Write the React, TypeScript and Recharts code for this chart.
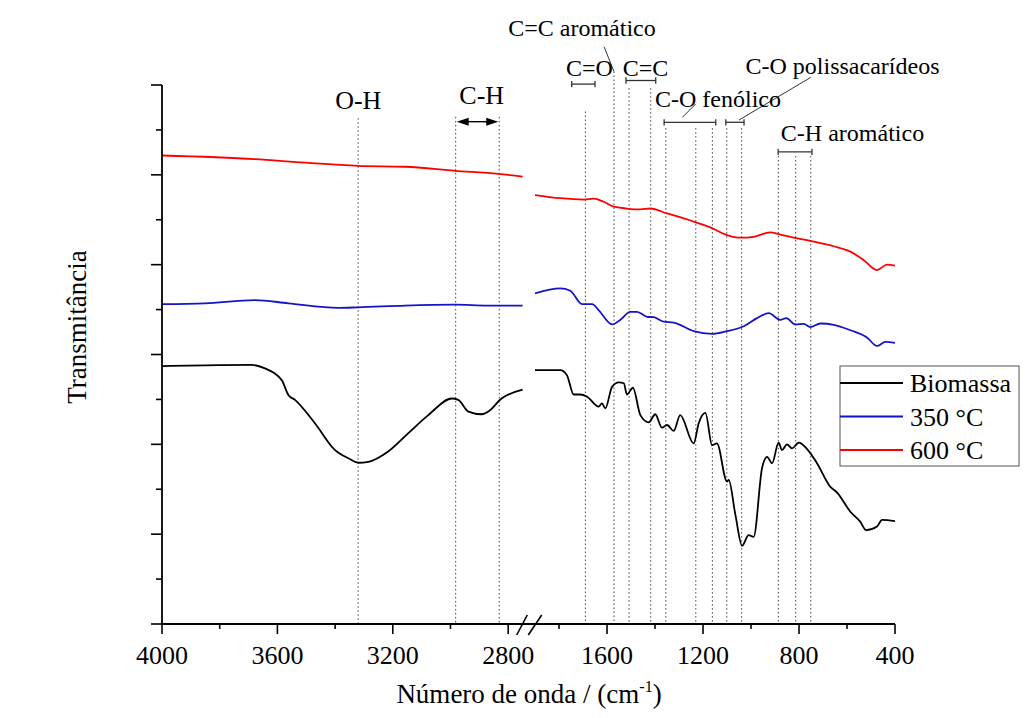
import React from "react";
import { LineChart, Line, XAxis, YAxis, ReferenceLine } from "recharts";

const FONT = '"Liberation Serif", "Times New Roman", Times, serif';

// [wavenumber (cm-1), transmittance (a.u.)]
const biomassaHigh = [
  [4000, 57.4], [3851, 57.6], [3689, 57.7], [3643, 56.9], [3585, 54.3], [3562, 51.0],
  [3539, 49.9], [3470, 44.7], [3400, 38.7], [3354, 36.9], [3320, 35.9], [3285, 36.1],
  [3216, 38.4], [3146, 42.5], [3077, 46.5], [2996, 50.2], [2973, 49.9], [2938, 47.3],
  [2892, 46.7], [2869, 47.3], [2823, 50.2], [2750, 52.2],
];
const biomassaLow = [
  [1900, 56.5], [1795, 56.5], [1767, 55.4], [1739, 51.1], [1711, 51.1], [1683, 50.6],
  [1635, 48.4], [1621, 49.1], [1607, 48.0], [1579, 52.8], [1551, 53.8], [1530, 53.6],
  [1517, 51.1], [1492, 52.6], [1461, 46.5], [1426, 44.9], [1399, 46.7], [1371, 43.7],
  [1350, 44.3], [1322, 43.0], [1295, 46.5], [1239, 40.2], [1218, 44.7], [1190, 47.0],
  [1162, 39.8], [1142, 40.2], [1100, 31.7], [1093, 32.1], [1065, 24.3], [1037, 17.4],
  [1010, 19.8], [989, 19.4], [954, 34.7], [933, 37.2], [912, 35.8], [885, 40.4],
  [871, 38.7], [850, 40.0], [829, 39.1], [801, 40.4], [767, 39.0], [725, 35.8],
  [670, 30.6], [642, 29.3], [586, 25.0], [545, 22.8], [520, 20.9], [475, 21.7],
  [454, 23.2], [400, 22.9],
];
const c350High = [
  [4000, 71.2], [3851, 71.4], [3678, 72.1], [3562, 71.4], [3389, 70.4], [3320, 70.5],
  [3158, 70.9], [2984, 71.1], [2870, 70.9], [2750, 70.9],
];
const c350Low = [
  [1900, 73.6], [1795, 74.7], [1753, 74.2], [1704, 71.2], [1662, 71.2], [1635, 69.9],
  [1579, 66.7], [1545, 67.7], [1503, 69.5], [1475, 69.5], [1433, 68.4], [1405, 68.3],
  [1364, 67.3], [1322, 67.1], [1239, 65.2], [1162, 64.6], [1100, 65.2], [1030, 66.3],
  [975, 68.1], [926, 69.2], [878, 67.7], [853, 68.1], [815, 66.7], [780, 66.8],
  [753, 66.1], [711, 66.9], [655, 66.6], [586, 65.4], [517, 63.8], [475, 61.9],
  [440, 62.8], [400, 62.6],
];
const c600High = [
  [4000, 104.3], [3678, 103.5], [3504, 102.7], [3320, 102.0], [3158, 101.8],
  [2984, 100.9], [2834, 100.2], [2750, 99.6],
];
const c600Low = [
  [1900, 95.5], [1795, 94.8], [1697, 94.5], [1655, 94.7], [1614, 94.0], [1572, 92.9],
  [1517, 92.5], [1461, 92.3], [1420, 92.5], [1350, 91.4], [1239, 89.6], [1170, 88.3],
  [1100, 86.6], [1045, 86.0], [989, 86.2], [920, 87.2], [878, 86.7], [822, 86.0],
  [753, 85.3], [655, 84.1], [586, 82.9], [530, 81.0], [475, 78.8], [433, 80.0],
  [400, 79.8],
];

const seriesNames = ["Biomassa", "350 °C", "600 °C"];
const seriesColors = ["#000000", "#1414c8", "#ff0000"];

const xMajor = [4000, 3600, 3200, 2800, 1600, 1200, 800, 400];
const xMinor = [3800, 3400, 3000, 1800, 1400, 1000, 600];
const yTicks = [0, 10, 20, 30, 40, 50, 60, 70, 80, 90, 100, 110, 120];

// band markers: [wavenumber, top of the dotted line]
const bandLines = [
  [3320, 112.6], [2982, 112.9], [2831, 112.9],
  [1690, 114.1], [1571, 123.0], [1508, 119.3], [1418, 119.3],
  [1355, 110.4], [1230, 110.4], [1161, 110.4], [1101, 110.4], [1039, 110.4],
  [886, 104.2], [814, 104.2], [751, 104.2],
];
// band ranges: [from, to, level]
const bandRanges = [
  [1747, 1650, 120.2], [1521, 1397, 121.0], [1362, 1147, 111.7],
  [1105, 1029, 111.7], [887, 746, 105.1],
];
// leader lines: [wn1, v1, wn2, v2]
const leaders = [
  [1612, 128.5, 1571, 123.0],
  [1286, 112.8, 1230, 115.8],
  [1050, 112.2, 751, 121.7],
];

// broken axis: 4000-2750 and 1900-400 on different scales
const HIGH_END = 2750;
const LOW_START = 1900;
const HIGH_K = 0.2885;
const LOW_K = 0.24;
const GAP = 12.4;
const toU = (wn: number) =>
  wn >= HIGH_END
    ? (4000 - wn) * HIGH_K
    : (4000 - HIGH_END) * HIGH_K + GAP + (LOW_START - wn) * LOW_K;
const U_MAX = toU(400);

const toSeries = (high: number[][], low: number[][]) => [
  ...high.map(([w, v]) => ({ u: toU(w), v })),
  { u: (4000 - HIGH_END) * HIGH_K + GAP / 2, v: null },
  ...low.map(([w, v]) => ({ u: toU(w), v })),
];
const seriesData = [
  toSeries(biomassaHigh, biomassaLow),
  toSeries(c350High, c350Low),
  toSeries(c600High, c600Low),
];

const W = 1020;
const H = 712;
const Y_AXIS_W = 60;
const X_AXIS_H = 30;
const M = { top: 77, right: 133, bottom: 96 - X_AXIS_H, left: 154 - Y_AXIS_W };
const PLOT_LEFT = 154;
const PLOT_W = W - PLOT_LEFT - M.right;
const uPx = (u: number) => PLOT_LEFT + (u / U_MAX) * PLOT_W;

const XTick = (props: any) => {
  const { x, y, payload } = props;
  const wn = [...xMajor, ...xMinor].find((w) => Math.abs(toU(w) - payload.value) < 0.01);
  const major = xMajor.includes(wn as number);
  return (
    <g>
      <line x1={x} x2={x} y1={y} y2={y + (major ? 10 : 5)} stroke="#000" strokeWidth={1.6} />
      {major && (
        <text x={x} y={y + 40} textAnchor="middle" fontFamily={FONT} fontSize={26} fill="#000">
          {wn}
        </text>
      )}
    </g>
  );
};

const YTick = (props: any) => {
  const { x, y, payload } = props;
  const major = payload.value % 20 === 0;
  return <line x1={x - (major ? 11 : 6)} x2={x} y1={y} y2={y} stroke="#000" strokeWidth={1.6} />;
};

const annoText = { fontFamily: FONT, fontSize: 24, fill: "#000", textAnchor: "middle" as const };

const Overlay = () => {
  const arrowY = 113.7;
  const ax1 = uPx(toU(2982));
  const ax2 = uPx(toU(2831));
  return (
    <svg
      width={W}
      height={H}
      style={{ position: "absolute", left: 0, top: 0, pointerEvents: "none" }}
    >
      {/* axis break */}
      <line x1={508.7} y1={627} x2={519.3} y2={607} stroke="#000" strokeWidth={1.6} />
      <line x1={520.3} y1={627} x2={533.7} y2={607} stroke="#000" strokeWidth={1.6} />

      <text
        x={69}
        y={319}
        transform="rotate(-90 69 319)"
        textAnchor="middle"
        dominantBaseline="central"
        fontFamily={FONT}
        fontSize={27}
        fill="#000"
      >
        Transmitância
      </text>
      <text x={521} y={695} textAnchor="middle" fontFamily={FONT} fontSize={27} fill="#000">
        Número de onda / (cm
        <tspan fontSize={16} dy={-11}>-1</tspan>
        <tspan dy={11}>)</tspan>
      </text>

      {/* C-H stretch arrow */}
      <line x1={ax1 + 10} x2={ax2 - 10} y1={arrowY} y2={arrowY} stroke="#000" strokeWidth={1.4} />
      <polygon points={`${ax1 + 1},${arrowY} ${ax1 + 13},${arrowY - 4} ${ax1 + 13},${arrowY + 4}`} fill="#000" />
      <polygon points={`${ax2 - 1},${arrowY} ${ax2 - 13},${arrowY - 4} ${ax2 - 13},${arrowY + 4}`} fill="#000" />

      <text {...annoText} fontSize={26} x={350.3} y={101}>O-H</text>
      <text {...annoText} fontSize={26} x={473.7} y={96}>C-H</text>
      <text {...annoText} x={574} y={28}>C=C aromático</text>
      <text {...annoText} x={581.5} y={68}>C=O</text>
      <text {...annoText} x={637.5} y={68}>C=C</text>
      <text {...annoText} x={710} y={99}>C-O fenólico</text>
      <text {...annoText} x={834.5} y={66}>C-O polissacarídeos</text>
      <text {...annoText} x={844.5} y={133}>C-H aromático</text>

      {/* legend */}
      <rect x={832} y={358} width={179} height={100} fill="#fff" stroke="#555" strokeWidth={1} />
      {seriesNames.map((name, i) => {
        const ly = 375 + i * 33.5;
        return (
          <g key={name}>
            <line x1={832} x2={895} y1={ly} y2={ly} stroke={seriesColors[i]} strokeWidth={2} />
            <text x={902} y={ly + 9} fontFamily={FONT} fontSize={26} fill="#000">
              {name}
            </text>
          </g>
        );
      })}
    </svg>
  );
};

const dotted = { stroke: "#444", strokeWidth: 1, strokeDasharray: "1.5 2.5" };
const bracket = { stroke: "#333", strokeWidth: 1.3 };

export default function App() {
  return (
    <div style={{ position: "relative", width: W, height: H, background: "#fff" }}>
      <LineChart width={W} height={H} margin={M}>
        <XAxis
          type="number"
          dataKey="u"
          domain={[0, U_MAX]}
          ticks={[...xMajor, ...xMinor].map(toU)}
          interval={0}
          height={X_AXIS_H}
          tickSize={0}
          tickMargin={0}
          tickLine={false}
          tick={<XTick />}
          axisLine={{ stroke: "#000", strokeWidth: 1.8 }}
          allowDataOverflow
        />
        <YAxis
          type="number"
          domain={[0, 120]}
          ticks={yTicks}
          interval={0}
          width={Y_AXIS_W}
          tickSize={0}
          tickMargin={0}
          tickLine={false}
          tick={<YTick />}
          axisLine={{ stroke: "#000", strokeWidth: 1.8 }}
          allowDataOverflow
        />
        {bandLines.map(([wn, top]) => (
          <ReferenceLine
            key={`band-${wn}`}
            segment={[{ x: toU(wn), y: top }, { x: toU(wn), y: 0 }]}
            ifOverflow="visible"
            {...dotted}
          />
        ))}
        {bandRanges.map(([a, b, v]) => (
          <React.Fragment key={`range-${a}`}>
            <ReferenceLine segment={[{ x: toU(a), y: v }, { x: toU(b), y: v }]} ifOverflow="visible" {...bracket} />
            <ReferenceLine segment={[{ x: toU(a), y: v - 0.7 }, { x: toU(a), y: v + 0.7 }]} ifOverflow="visible" {...bracket} />
            <ReferenceLine segment={[{ x: toU(b), y: v - 0.7 }, { x: toU(b), y: v + 0.7 }]} ifOverflow="visible" {...bracket} />
          </React.Fragment>
        ))}
        {leaders.map(([w1, v1, w2, v2]) => (
          <ReferenceLine
            key={`lead-${w1}`}
            segment={[{ x: toU(w1), y: v1 }, { x: toU(w2), y: v2 }]}
            ifOverflow="visible"
            stroke="#333"
            strokeWidth={1}
          />
        ))}
        {seriesData.map((data, i) => (
          <Line
            key={seriesNames[i]}
            data={data}
            dataKey="v"
            name={seriesNames[i]}
            type="monotone"
            stroke={seriesColors[i]}
            strokeWidth={1.8}
            dot={false}
            activeDot={false}
            connectNulls={false}
            isAnimationActive={false}
          />
        ))}
      </LineChart>
      <Overlay />
    </div>
  );
}
